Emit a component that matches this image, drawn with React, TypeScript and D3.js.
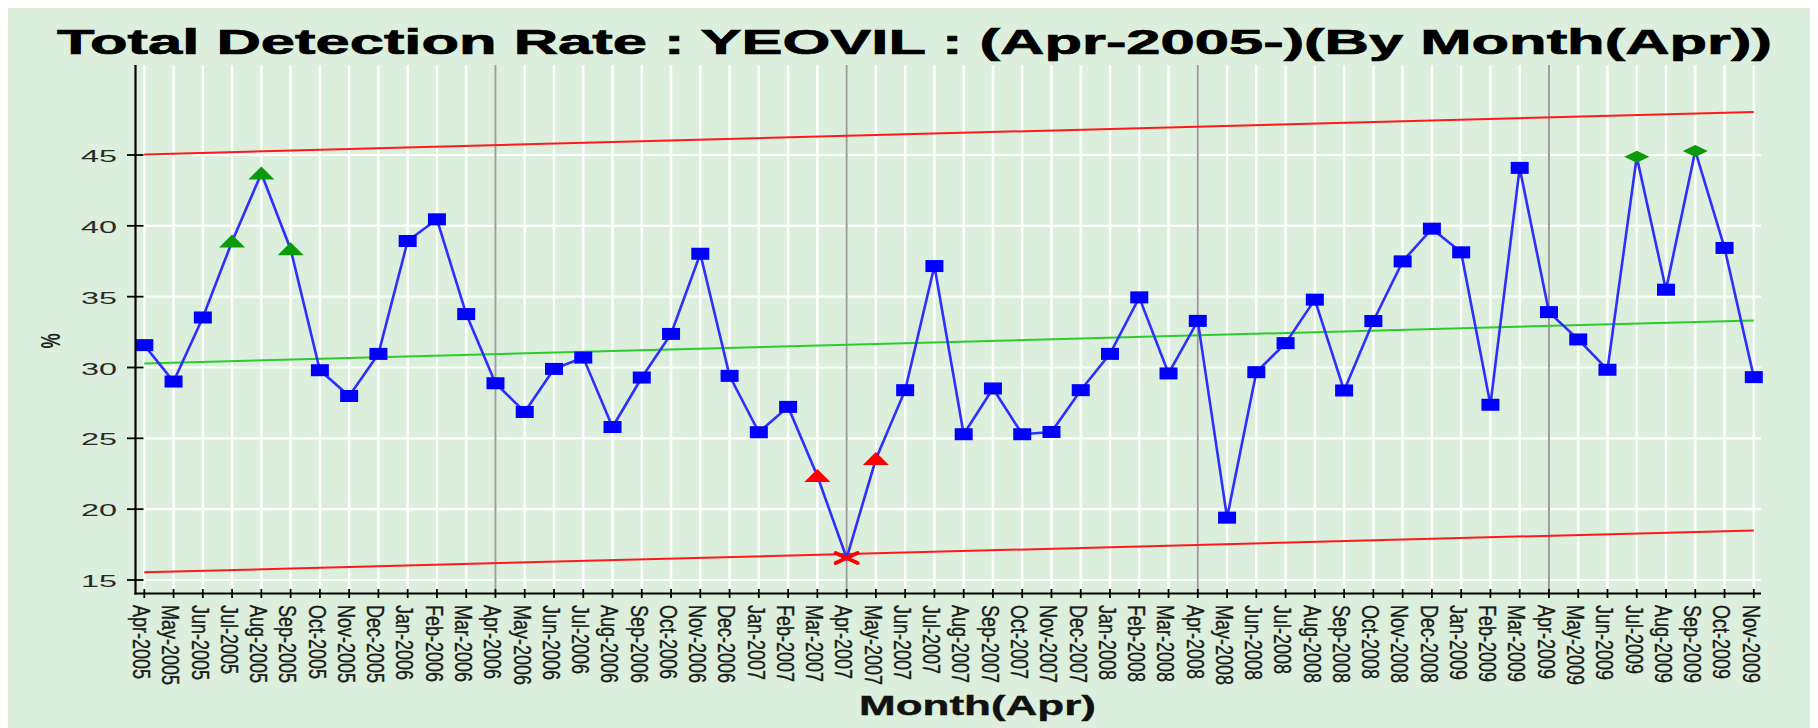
import React, { useEffect } from 'react';
import * as d3 from 'd3';

const months = [
  "Apr-2005","May-2005","Jun-2005","Jul-2005","Aug-2005","Sep-2005","Oct-2005","Nov-2005","Dec-2005",
  "Jan-2006","Feb-2006","Mar-2006","Apr-2006","May-2006","Jun-2006","Jul-2006","Aug-2006","Sep-2006","Oct-2006","Nov-2006","Dec-2006",
  "Jan-2007","Feb-2007","Mar-2007","Apr-2007","May-2007","Jun-2007","Jul-2007","Aug-2007","Sep-2007","Oct-2007","Nov-2007","Dec-2007",
  "Jan-2008","Feb-2008","Mar-2008","Apr-2008","May-2008","Jun-2008","Jul-2008","Aug-2008","Sep-2008","Oct-2008","Nov-2008","Dec-2008",
  "Jan-2009","Feb-2009","Mar-2009","Apr-2009","May-2009","Jun-2009","Jul-2009","Aug-2009","Sep-2009","Oct-2009","Nov-2009"
];

const rates = [
  31.58, 29.01, 33.53, 38.9, 43.7, 38.35, 29.81, 27.99, 30.96,
  38.93, 40.46, 33.77, 28.89, 26.86, 29.9, 30.7, 25.8, 29.29, 32.37, 38.03, 29.41,
  25.43, 27.22, 22.34, 16.55, 23.54, 28.4, 37.16, 25.29, 28.52, 25.29, 25.45, 28.4,
  30.96, 34.95, 29.58, 33.29, 19.4, 29.67, 31.72, 34.79, 28.38, 33.28, 37.49, 39.8,
  38.13, 27.37, 44.09, 33.91, 31.98, 29.84, 44.87, 35.49, 45.29, 38.44, 29.32
];

// s = normal, hi = high run, lo = low run, out = below limit, top = near upper limit
const markerType = [
  "s","s","s","hi","hi","hi","s","s","s",
  "s","s","s","s","s","s","s","s","s","s","s","s",
  "s","s","lo","out","lo","s","s","s","s","s","s","s",
  "s","s","s","s","s","s","s","s","s","s","s","s",
  "s","s","s","s","s","s","top","s","top","s","s"
];

const centerLine = [30.28, 33.32];
const upperLimit = [45.04, 48.04];
const lowerLimit = [15.54, 18.5];
const yTicks = [15, 20, 25, 30, 35, 40, 45];
const yearStarts = ["Apr-2006", "Apr-2007", "Apr-2008", "Apr-2009"];

const title = "Total Detection Rate : YEOVIL : (Apr-2005-)(By Month(Apr))";
const xTitle = "Month(Apr)";
const yTitle = "%";

const BG = "#dcefdc";

export default function App() {
  useEffect(() => {
    document.documentElement.style.overflow = "hidden";
    document.body.style.overflow = "hidden";
  }, []);

  const x = d3.scalePoint<string>().domain(months).range([144.3, 1753.8]);
  const y = d3.scaleLinear().domain([15, 45]).range([580, 155]);
  const axisTop = 65;
  const axisBottom = 593.5;
  const axisLeft = 135.5;
  const axisRight = 1761;

  const pts = months.map((m, i) => ({ m, v: rates[i], t: markerType[i] }));
  const line = d3.line<{ m: string; v: number }>()
    .x(d => x(d.m) as number)
    .y(d => y(d.v));

  const x0 = x(months[0]) as number;
  const x1 = x(months[months.length - 1]) as number;
  const font = "'Liberation Sans', Arial, Helvetica, sans-serif";

  const marker = (d: { m: string; v: number; t: string }, i: number) => {
    const cx = x(d.m) as number;
    const cy = y(d.v);
    if (d.t === "s") {
      return <rect key={i} x={cx - 9} y={cy - 6} width={18} height={12} fill="#0000ff" />;
    }
    if (d.t === "hi" || d.t === "lo") {
      const c = d.t === "hi" ? "#0a9a0a" : "#ff0000";
      return <path key={i} d={`M${cx - 13},${cy + 6}L${cx},${cy - 7}L${cx + 13},${cy + 6}Z`} fill={c} />;
    }
    if (d.t === "top") {
      return <path key={i} d={`M${cx - 12.5},${cy}L${cx},${cy - 6}L${cx + 12.5},${cy}L${cx},${cy + 6}Z`} fill="#0a9a0a" />;
    }
    return (
      <g key={i} stroke="#ff0000" strokeWidth={3.8} strokeLinecap="round">
        <line x1={cx - 11} y1={cy - 5} x2={cx + 11} y2={cy + 5} />
        <line x1={cx - 11} y1={cy + 5} x2={cx + 11} y2={cy - 5} />
      </g>
    );
  };

  return (
    <svg width={1810} height={720} style={{ display: "block" }}>
      <g transform="translate(-8,-8)">
        <rect x={8} y={8} width={1810} height={720} fill={BG} />
        {/* horizontal grid */}
        {yTicks.map(t => (
          <line key={"hg" + t} x1={axisLeft} x2={axisRight} y1={y(t)} y2={y(t)} stroke="#ffffff" strokeWidth={2.2} />
        ))}
        {/* vertical grid */}
        {months.map(m => (
          <line key={"vg" + m} x1={x(m) as number} x2={x(m) as number} y1={axisTop} y2={axisBottom} stroke="#ffffff" strokeWidth={2.4} />
        ))}
        {yearStarts.map(m => (
          <line key={"yr" + m} x1={x(m) as number} x2={x(m) as number} y1={axisTop} y2={axisBottom} stroke="#9c9c9c" strokeWidth={2} />
        ))}
        {/* control lines */}
        <line x1={x0} x2={x1} y1={y(upperLimit[0])} y2={y(upperLimit[1])} stroke="#ff1a1a" strokeWidth={2} />
        <line x1={x0} x2={x1} y1={y(lowerLimit[0])} y2={y(lowerLimit[1])} stroke="#ff1a1a" strokeWidth={2} />
        <line x1={x0} x2={x1} y1={y(centerLine[0])} y2={y(centerLine[1])} stroke="#2ccc2c" strokeWidth={2} />
        {/* data */}
        <path d={line(pts) as string} fill="none" stroke="#2e2eff" strokeWidth={2.6} />
        {pts.map(marker)}
        {/* axes */}
        <line x1={axisLeft} x2={axisLeft} y1={axisTop} y2={axisBottom + 1} stroke="#000" strokeWidth={2.2} />
        <line x1={axisLeft - 1} x2={axisRight} y1={axisBottom} y2={axisBottom} stroke="#000" strokeWidth={2.2} />
        {yTicks.map(t => (
          <g key={"yt" + t}>
            <line x1={axisLeft - 8.5} x2={axisLeft + 8} y1={y(t)} y2={y(t)} stroke="#000" strokeWidth={1.8} />
            <text x={117} y={y(t) + 7} textAnchor="end" fontFamily={font} fontSize={17} fill="#2a2a2a"
              textLength={36} lengthAdjust="spacingAndGlyphs">{t}</text>
          </g>
        ))}
        {months.map(m => {
          const tx = x(m) as number;
          return (
            <g key={"xt" + m}>
              <line x1={tx} x2={tx} y1={axisBottom - 4.5} y2={axisBottom + 4.5} stroke="#000" strokeWidth={1.8} />
              <text transform={`translate(${tx - 11.2},605) rotate(90) scale(1,1.36)`} fontFamily={font}
                fontSize={18} fill="#1a1a1a" stroke="#1a1a1a" strokeWidth={0.3}>{m}</text>
            </g>
          );
        })}
        {/* titles */}
        <text x={57} y={54} fontFamily={font} fontWeight="bold" fontSize={35} fill="#000" stroke="#000" strokeWidth={0.7}
          textLength={1715} lengthAdjust="spacingAndGlyphs">{title}</text>
        <text x={859} y={715} fontFamily={font} fontWeight="bold" fontSize={27} fill="#111" stroke="#111" strokeWidth={0.4}
          textLength={237} lengthAdjust="spacingAndGlyphs">{xTitle}</text>
        <text transform="translate(60,341) rotate(-90) scale(1,1.6)" textAnchor="middle" fontFamily={font}
          fontWeight="bold" fontSize={17} fill="#222">{yTitle}</text>
      </g>
    </svg>
  );
}
